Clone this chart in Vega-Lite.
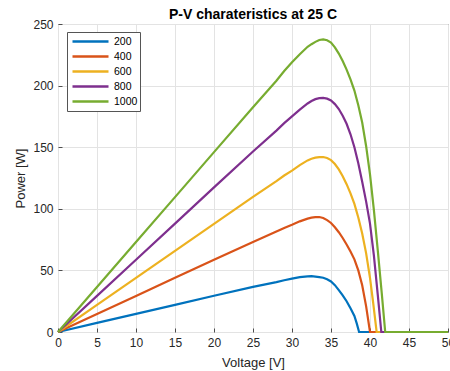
{
  "$schema": "https://vega.github.io/schema/vega-lite/v6.json",
  "autosize": "none",
  "width": 390,
  "height": 308,
  "padding": {"left": 58, "top": 24, "right": 2, "bottom": 39},
  "background": "white",
  "config": {
    "font": "Liberation Sans",
    "view": {"stroke": "#4d4d4d", "strokeWidth": 1}
  },
  "title": {
    "text": "P-V charateristics at 25 C",
    "fontSize": 14,
    "fontWeight": "bold",
    "color": "#000000",
    "anchor": "middle",
    "offset": -4
  },
  "data": {
    "values": [
      {"G": "200", "V": 0, "P": 0}, {"G": "200", "V": 5, "P": 7.35}, {"G": "200", "V": 10, "P": 14.7}, {"G": "200", "V": 15, "P": 22}, {"G": "200", "V": 20, "P": 29.4}, {"G": "200", "V": 25, "P": 36.6}, {"G": "200", "V": 28, "P": 40.5}, {"G": "200", "V": 29, "P": 42}, {"G": "200", "V": 30, "P": 43.3}, {"G": "200", "V": 31, "P": 44.5}, {"G": "200", "V": 32, "P": 45.2}, {"G": "200", "V": 32.5, "P": 45.3}, {"G": "200", "V": 33, "P": 45}, {"G": "200", "V": 33.5, "P": 44.6}, {"G": "200", "V": 34, "P": 44}, {"G": "200", "V": 34.5, "P": 42.8}, {"G": "200", "V": 35, "P": 41}, {"G": "200", "V": 35.5, "P": 38}, {"G": "200", "V": 36, "P": 34}, {"G": "200", "V": 36.5, "P": 29.8}, {"G": "200", "V": 37, "P": 25}, {"G": "200", "V": 37.5, "P": 19.3}, {"G": "200", "V": 38, "P": 13}, {"G": "200", "V": 38.3, "P": 7}, {"G": "200", "V": 38.6, "P": 0}, {"G": "200", "V": 40, "P": 0}, {"G": "200", "V": 50, "P": 0},
      {"G": "400", "V": 0, "P": 0}, {"G": "400", "V": 5, "P": 14.65}, {"G": "400", "V": 10, "P": 29.3}, {"G": "400", "V": 15, "P": 44}, {"G": "400", "V": 20, "P": 58.6}, {"G": "400", "V": 25, "P": 73}, {"G": "400", "V": 28, "P": 81.5}, {"G": "400", "V": 29, "P": 84.5}, {"G": "400", "V": 30, "P": 87}, {"G": "400", "V": 31, "P": 89.8}, {"G": "400", "V": 32, "P": 92}, {"G": "400", "V": 32.5, "P": 92.8}, {"G": "400", "V": 33, "P": 93.2}, {"G": "400", "V": 33.5, "P": 93.3}, {"G": "400", "V": 34, "P": 92.5}, {"G": "400", "V": 34.5, "P": 90.8}, {"G": "400", "V": 35, "P": 88.5}, {"G": "400", "V": 35.5, "P": 85}, {"G": "400", "V": 36, "P": 81}, {"G": "400", "V": 36.5, "P": 76.3}, {"G": "400", "V": 37, "P": 71}, {"G": "400", "V": 37.5, "P": 65.3}, {"G": "400", "V": 38, "P": 59}, {"G": "400", "V": 38.5, "P": 50}, {"G": "400", "V": 39, "P": 38}, {"G": "400", "V": 39.5, "P": 21}, {"G": "400", "V": 40, "P": 0}, {"G": "400", "V": 50, "P": 0},
      {"G": "600", "V": 0, "P": 0}, {"G": "600", "V": 5, "P": 21.95}, {"G": "600", "V": 10, "P": 43.9}, {"G": "600", "V": 15, "P": 65.8}, {"G": "600", "V": 20, "P": 87.8}, {"G": "600", "V": 25, "P": 109.7}, {"G": "600", "V": 28, "P": 122.5}, {"G": "600", "V": 29, "P": 127}, {"G": "600", "V": 30, "P": 131}, {"G": "600", "V": 31, "P": 135.5}, {"G": "600", "V": 32, "P": 139.3}, {"G": "600", "V": 32.5, "P": 140.6}, {"G": "600", "V": 33, "P": 141.5}, {"G": "600", "V": 33.5, "P": 142}, {"G": "600", "V": 34, "P": 142}, {"G": "600", "V": 34.5, "P": 141.2}, {"G": "600", "V": 35, "P": 139.5}, {"G": "600", "V": 35.5, "P": 136.3}, {"G": "600", "V": 36, "P": 132}, {"G": "600", "V": 36.5, "P": 126.5}, {"G": "600", "V": 37, "P": 120}, {"G": "600", "V": 37.5, "P": 112.5}, {"G": "600", "V": 38, "P": 104}, {"G": "600", "V": 38.5, "P": 93}, {"G": "600", "V": 39, "P": 80}, {"G": "600", "V": 39.5, "P": 64}, {"G": "600", "V": 40, "P": 44}, {"G": "600", "V": 40.4, "P": 24}, {"G": "600", "V": 40.85, "P": 0}, {"G": "600", "V": 50, "P": 0},
      {"G": "800", "V": 0, "P": 0}, {"G": "800", "V": 5, "P": 29.35}, {"G": "800", "V": 10, "P": 58.7}, {"G": "800", "V": 15, "P": 88}, {"G": "800", "V": 20, "P": 117.4}, {"G": "800", "V": 25, "P": 146.5}, {"G": "800", "V": 28, "P": 163.5}, {"G": "800", "V": 29, "P": 169.5}, {"G": "800", "V": 30, "P": 175}, {"G": "800", "V": 31, "P": 180.5}, {"G": "800", "V": 32, "P": 185.5}, {"G": "800", "V": 32.5, "P": 187.5}, {"G": "800", "V": 33, "P": 189}, {"G": "800", "V": 33.5, "P": 189.8}, {"G": "800", "V": 34, "P": 190}, {"G": "800", "V": 34.5, "P": 189.4}, {"G": "800", "V": 35, "P": 188}, {"G": "800", "V": 35.5, "P": 185}, {"G": "800", "V": 36, "P": 181}, {"G": "800", "V": 36.5, "P": 175.5}, {"G": "800", "V": 37, "P": 169}, {"G": "800", "V": 37.5, "P": 160.5}, {"G": "800", "V": 38, "P": 150}, {"G": "800", "V": 38.5, "P": 137}, {"G": "800", "V": 39, "P": 122}, {"G": "800", "V": 39.5, "P": 106}, {"G": "800", "V": 40, "P": 88}, {"G": "800", "V": 40.5, "P": 62}, {"G": "800", "V": 41, "P": 30}, {"G": "800", "V": 41.45, "P": 0}, {"G": "800", "V": 50, "P": 0},
      {"G": "1000", "V": 0, "P": 0}, {"G": "1000", "V": 5, "P": 36.5}, {"G": "1000", "V": 10, "P": 73}, {"G": "1000", "V": 15, "P": 109.5}, {"G": "1000", "V": 20, "P": 146}, {"G": "1000", "V": 25, "P": 182.5}, {"G": "1000", "V": 28, "P": 204}, {"G": "1000", "V": 29, "P": 211.8}, {"G": "1000", "V": 30, "P": 219}, {"G": "1000", "V": 31, "P": 225.5}, {"G": "1000", "V": 32, "P": 231.5}, {"G": "1000", "V": 32.5, "P": 233.6}, {"G": "1000", "V": 33, "P": 235.5}, {"G": "1000", "V": 33.5, "P": 237}, {"G": "1000", "V": 34, "P": 237.5}, {"G": "1000", "V": 34.5, "P": 236.8}, {"G": "1000", "V": 35, "P": 235}, {"G": "1000", "V": 35.5, "P": 231}, {"G": "1000", "V": 36, "P": 226}, {"G": "1000", "V": 36.5, "P": 220}, {"G": "1000", "V": 37, "P": 213}, {"G": "1000", "V": 37.5, "P": 205}, {"G": "1000", "V": 38, "P": 196}, {"G": "1000", "V": 38.5, "P": 184}, {"G": "1000", "V": 39, "P": 170}, {"G": "1000", "V": 39.5, "P": 151}, {"G": "1000", "V": 40, "P": 128}, {"G": "1000", "V": 40.5, "P": 99}, {"G": "1000", "V": 41, "P": 66}, {"G": "1000", "V": 41.5, "P": 32}, {"G": "1000", "V": 41.95, "P": 0}, {"G": "1000", "V": 50, "P": 0}
    ]
  },
  "mark": {"type": "line", "strokeWidth": 2.2, "interpolate": "linear"},
  "encoding": {
    "x": {
      "field": "V", "type": "quantitative",
      "scale": {"domain": [0, 50], "nice": false, "zero": false},
      "axis": {
        "title": "Voltage [V]",
        "values": [0, 5, 10, 15, 20, 25, 30, 35, 40, 45, 50],
        "grid": true, "gridColor": "#e3e3e3", "gridWidth": 1,
        "domain": false,
        "ticks": true, "tickSize": -4, "tickColor": "#4d4d4d", "tickWidth": 1,
        "labelFontSize": 12, "labelColor": "#262626", "labelPadding": 9,
        "labelFlush": false,
        "titleFontSize": 13, "titleFontWeight": "normal", "titleColor": "#262626", "titlePadding": 8
      }
    },
    "y": {
      "field": "P", "type": "quantitative",
      "scale": {"domain": [0, 250], "nice": false},
      "axis": {
        "title": "Power [W]",
        "values": [0, 50, 100, 150, 200, 250],
        "grid": true, "gridColor": "#e3e3e3", "gridWidth": 1,
        "domain": false,
        "ticks": true, "tickSize": -4, "tickColor": "#4d4d4d", "tickWidth": 1,
        "labelFontSize": 12, "labelColor": "#262626", "labelPadding": 9,
        "titleFontSize": 13, "titleFontWeight": "normal", "titleColor": "#262626", "titlePadding": 5
      }
    },
    "color": {
      "field": "G", "type": "nominal",
      "scale": {
        "domain": ["200", "400", "600", "800", "1000"],
        "range": ["#0072BD", "#D95319", "#EDB120", "#7E2F8E", "#77AC30"]
      },
      "legend": {
        "title": null,
        "orient": "none",
        "legendX": 9,
        "legendY": 8,
        "symbolType": "stroke",
        "symbolSize": 1296,
        "symbolStrokeWidth": 2.5,
        "symbolOffset": 2,
        "clipHeight": 15,
        "labelFontSize": 10.5,
        "labelColor": "#000000",
        "labelOffset": 4,
        "strokeColor": "#555555",
        "fillColor": "#ffffff",
        "padding": 2,
        "rowPadding": 0
      }
    }
  }
}
